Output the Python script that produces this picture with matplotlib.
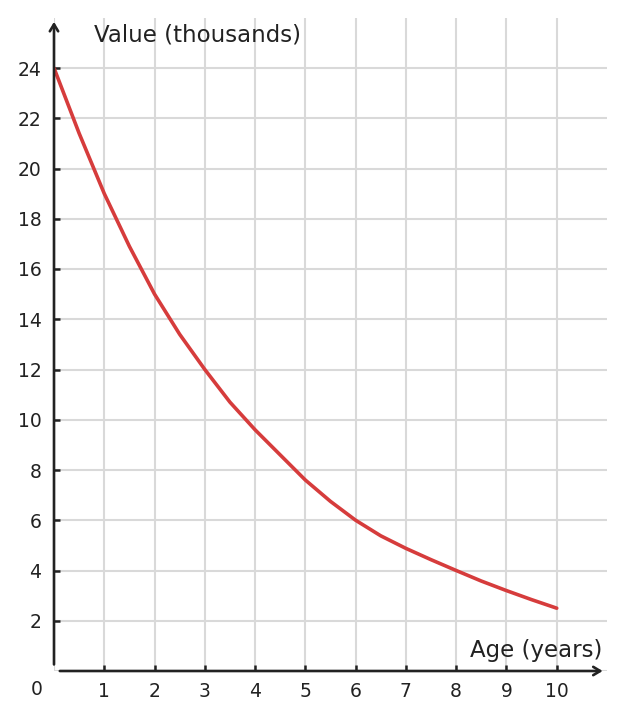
import matplotlib
matplotlib.use("Agg")
import matplotlib.pyplot as plt

age = [0, 0.5, 1, 1.5, 2, 2.5, 3, 3.5, 4, 4.5, 5, 5.5, 6, 6.5, 7, 7.5, 8, 8.5, 9, 9.5, 10]
value = [24, 21.4, 19, 16.9, 15, 13.4, 12.0, 10.7, 9.6, 8.6, 7.6, 6.75, 6.0, 5.38, 4.88,
         4.43, 4.0, 3.58, 3.2, 2.84, 2.5]
x_ticks = [1, 2, 3, 4, 5, 6, 7, 8, 9, 10]
y_ticks = [2, 4, 6, 8, 10, 12, 14, 16, 18, 20, 22, 24]

fig = plt.figure(figsize=(6.26, 7.2), dpi=100)
ax = fig.add_axes([54/626, 1-671/720, (607-54)/626, (671-17.75)/720])
ax.set_xlim(0, 11)
ax.set_ylim(0, 26)

grid_c = "#d9d9d9"
ax.set_xticks(x_ticks)
ax.set_yticks(y_ticks)
ax.grid(True, color=grid_c, lw=1.5, zorder=0)
ax.axhline(0, color=grid_c, lw=1.5, zorder=0)
ax.axvline(0, color=grid_c, lw=1.5, zorder=0)
for s in ax.spines.values():
    s.set_visible(False)

axc = "#222222"
ax.tick_params(direction="in", length=4, width=1.8, color=axc,
               labelsize=13.5, labelcolor="#222222")
ax.tick_params(axis="y", pad=9)
ax.tick_params(axis="x", pad=8)

ax.plot(age, value, color="#d63c3c", lw=2.6, solid_capstyle="round",
        solid_joinstyle="round", zorder=3)

# axes arrows
ax.annotate("", xy=(10.97, 0), xytext=(0.06, 0),
            arrowprops=dict(arrowstyle="->,head_length=0.5,head_width=0.3", color=axc, lw=1.9),
            annotation_clip=False, zorder=4)
ax.annotate("", xy=(0, 25.95), xytext=(0, 0.15),
            arrowprops=dict(arrowstyle="->,head_length=0.5,head_width=0.3", color=axc, lw=1.9),
            annotation_clip=False, zorder=4)

ax.text(0.8, 25.3, "Value (thousands)", fontsize=16.5, color="#222222",
        ha="left", va="center")
ax.text(10.9, 0.8, "Age (years)", fontsize=16.5, color="#222222",
        ha="right", va="center")
ax.text(-0.34, -0.75, "0", fontsize=13.5, color="#222222", ha="center", va="center",
        clip_on=False)

fig.savefig("out.png", dpi=100)
